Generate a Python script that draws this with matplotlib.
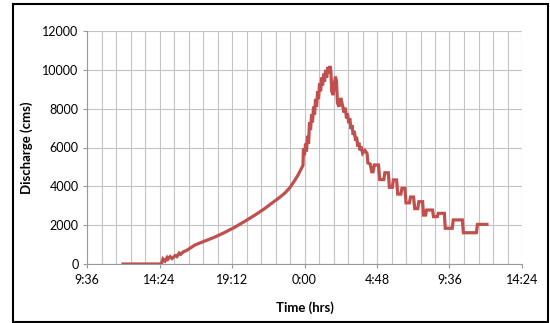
import matplotlib
matplotlib.use("Agg")
import matplotlib.pyplot as plt
from matplotlib.ticker import MultipleLocator, FuncFormatter
from matplotlib.patches import Rectangle

# --- data (time in hours from midnight of day 1) ---
time_hrs = [
    11.98, 14.43, 14.55, 14.63, 14.76, 14.90, 14.96, 15.10, 15.23, 15.43,
    15.55, 15.70, 15.80, 15.96, 16.20, 16.75, 17.40, 18.07, 18.70, 19.40,
    20.05, 20.72, 21.30, 21.85, 22.30, 22.71, 23.00, 23.24, 23.57, 23.85,
    23.90, 23.93, 24.00, 24.07, 24.13, 24.20, 24.27, 24.33, 24.40, 24.47,
    24.53, 24.60, 24.67, 24.73, 24.80, 24.87, 24.93, 25.00, 25.07, 25.13,
    25.20, 25.27, 25.33, 25.40, 25.47, 25.55, 25.62, 25.68, 25.75, 25.80,
    25.90, 25.97, 26.05, 26.12, 26.18, 26.28, 26.40, 26.48, 26.55, 26.62,
    26.70, 26.78, 26.85, 26.93, 27.00, 27.08, 27.15, 27.22, 27.30, 27.38,
    27.45, 27.53, 27.60, 27.68, 27.75, 27.85, 28.00, 28.14, 28.20, 28.35,
    28.45, 28.54, 28.62, 28.90, 28.98, 29.25, 29.32, 29.55, 29.62, 29.82,
    29.88, 30.10, 30.17, 30.38, 30.45, 30.65, 30.72, 30.95, 31.02, 31.22,
    31.30, 31.50, 31.57, 31.82, 31.88, 32.02, 32.08, 32.48, 32.54, 32.80,
    32.86, 33.26, 33.32, 33.78, 33.85, 34.45, 34.52, 35.38, 35.45, 36.08,
]
discharge = [
    0, 0, 60, 260, 150, 330, 250, 380, 280, 430,
    380, 560, 500, 620, 700, 980, 1180, 1390, 1620, 1900,
    2200, 2520, 2820, 3140, 3400, 3660, 3900, 4170, 4580, 5000,
    5100, 5950, 5600, 6200, 5800, 6600, 6200, 7300, 6900, 7700,
    7300, 8100, 7700, 8500, 8100, 8900, 8500, 9300, 8900, 9600,
    9200, 9800, 9400, 10000, 9600, 10150, 9800, 10200, 9900, 8900,
    8700, 9300, 9650, 9400, 8300, 8100, 8550, 8300, 8050, 7800,
    8050, 7500, 7750, 7250, 7500, 6950, 7150, 6650, 6850, 6350,
    6550, 6050, 6250, 5850, 6050, 5700, 5850, 5700, 5200, 5150,
    4750, 4750, 5100, 5100, 4350, 4350, 4700, 4700, 3950, 3950,
    4330, 4330, 3600, 3600, 3900, 3900, 3150, 3150, 3450, 3450,
    2850, 2850, 3210, 3210, 2520, 2520, 2780, 2780, 2440, 2440,
    2610, 2610, 1840, 1840, 2270, 2270, 1610, 1610, 2040, 2040,
]


def hhmm(h, pos=None):
    m = int(round(h * 60))
    return f"{(m // 60) % 24}:{m % 60:02d}"


plt.rcParams['font.family'] = ['Lato', 'DejaVu Sans']

fig = plt.figure(figsize=(5.5, 3.23), dpi=100)
ax = fig.add_axes([87 / 550, 1 - 264 / 323, 435 / 550, 233 / 323])

ax.plot(time_hrs, discharge, color='#c0504d', lw=2.3, solid_joinstyle='miter')

ax.set_xlim(9.6, 38.4)
ax.set_ylim(0, 12000)
ax.xaxis.set_major_locator(MultipleLocator(4.8))
ax.xaxis.set_minor_locator(MultipleLocator(0.96))
ax.xaxis.set_major_formatter(FuncFormatter(hhmm))
ax.yaxis.set_major_locator(MultipleLocator(2000))

ax.grid(True, which='both', axis='x', color='#c4c4c4', lw=0.8)
ax.grid(True, which='major', axis='y', color='#c4c4c4', lw=0.8)
ax.set_axisbelow(True)

for s in ['top', 'right']:
    ax.spines[s].set_visible(False)
for s in ['left', 'bottom']:
    ax.spines[s].set_color('#999999')
    ax.spines[s].set_linewidth(0.8)

ax.tick_params(axis='both', which='major', labelsize=9, color='#999999',
               length=3, width=0.8, pad=3)
ax.tick_params(axis='x', which='minor', length=0)
ax.tick_params(axis='x', which='major', pad=4)

ax.set_xlabel("Time (hrs)", fontsize=9.5, fontweight='bold', labelpad=11)
ax.set_ylabel("Discharge (cms)", fontsize=9.5, fontweight='bold', labelpad=7)

# outer frame of the figure
fig.patches.append(Rectangle((13 / 550, 1 / 323), 535 / 550, 318 / 323,
                             transform=fig.transFigure, fill=False,
                             edgecolor='black', lw=1.5))

fig.savefig("out.png", dpi=100)
